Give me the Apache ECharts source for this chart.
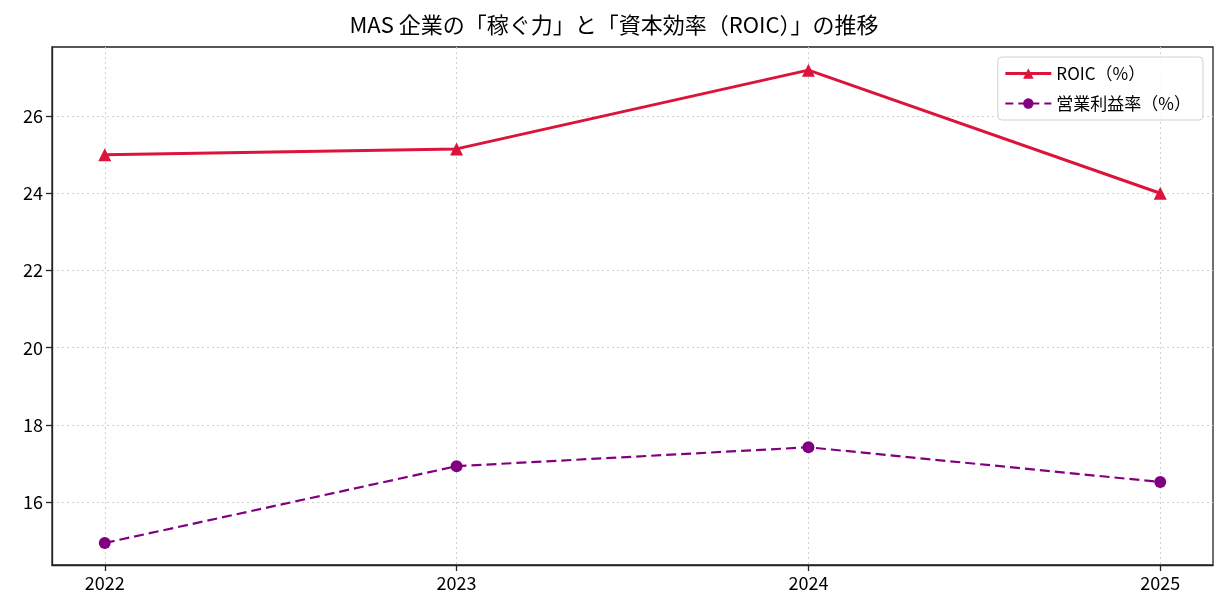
<!DOCTYPE html>
<html>
<head>
<meta charset="utf-8">
<script src="https://cdn.jsdelivr.net/npm/echarts@6/dist/echarts.min.js"></script>
<style>
  html, body { margin: 0; padding: 0; background: #fff; }
  #chart { width: 1228px; height: 616px; }
</style>
</head>
<body>
<div id="chart"></div>
<script>
const years = [2022, 2023, 2024, 2025]
const roic = [25.0, 25.15, 27.19, 24.0]
const opMargin = [14.94, 16.93, 17.42, 16.52]
const yTicks = [16, 18, 20, 22, 24, 26]

const font = '"Noto Sans CJK JP", "DejaVu Sans", sans-serif'
const chart = echarts.init(document.getElementById('chart'))

const option = {
  animation: false,
  textStyle: { fontFamily: font },
  title: {
    text: 'MAS 企業の「稼ぐ力」と「資本効率（ROIC）」の推移',
    left: 'center',
    top: 9,
    textStyle: { fontSize: 22, fontWeight: 'normal', color: '#000', fontFamily: font }
  },
  grid: { left: 52, right: 15, top: 47, bottom: 51, show: true, borderColor: '#222', borderWidth: 1.3 },
  legend: {
    right: 25,
    top: 57,
    orient: 'vertical',
    backgroundColor: 'rgba(255,255,255,0.8)',
    borderColor: '#d0d0d0',
    borderWidth: 1,
    borderRadius: 4,
    padding: [8, 12, 8, 6],
    itemWidth: 46,
    itemHeight: 13,
    itemGap: 13,
    textStyle: { fontSize: 17, color: '#000', fontFamily: font },
    data: [
      { name: 'ROIC（%）', lineStyle: { width: 3 } },
      { name: '営業利益率（%）', lineStyle: { width: 2.2, type: [8, 5] } }
    ]
  },
  xAxis: {
    type: 'value',
    min: 2021.85,
    max: 2025.15,
    axisLine: { lineStyle: { color: '#222', width: 1.3 } },
    axisTick: { length: 6, lineStyle: { color: '#222', width: 1.3 }, customValues: years },
    axisLabel: { fontSize: 18, color: '#000', margin: 9, customValues: years, formatter: v => String(v) },
    splitLine: { show: true, lineStyle: { type: [2, 3], color: '#d0d0d0', width: 1 } }
  },
  yAxis: {
    type: 'value',
    min: 14.37,
    max: 27.79,
    axisLine: { show: true, lineStyle: { color: '#222', width: 1.3 } },
    axisTick: { show: true, length: 6, lineStyle: { color: '#222', width: 1.3 }, customValues: yTicks },
    axisLabel: { fontSize: 18, color: '#000', margin: 9, customValues: yTicks },
    splitLine: { show: true, lineStyle: { type: [2, 3], color: '#d0d0d0', width: 1 } }
  },
  series: [
    {
      name: 'ROIC（%）',
      type: 'line',
      data: years.map((y, i) => [y, roic[i]]),
      symbol: 'triangle',
      symbolSize: 13,
      lineStyle: { color: '#DC143C', width: 3 },
      itemStyle: { color: '#DC143C' }
    },
    {
      name: '営業利益率（%）',
      type: 'line',
      data: years.map((y, i) => [y, opMargin[i]]),
      symbol: 'circle',
      symbolSize: 12,
      lineStyle: { color: '#800080', width: 2.2, type: [10, 5] },
      itemStyle: { color: '#800080' }
    }
  ]
}
chart.setOption(option)
</script>
</body>
</html>
